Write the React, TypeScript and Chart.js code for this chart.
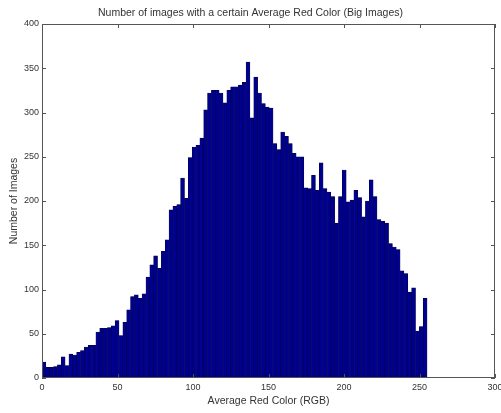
import React, { useEffect, useRef } from "react";
import { Chart, registerables } from "chart.js";

Chart.register(...registerables);

const TITLE = "Number of images with a certain Average Red Color (Big Images)";
const X_LABEL = "Average Red Color (RGB)";
const Y_LABEL = "Number of Images";

// histogram bins: 100 bins spanning 0..255
const BIN_MIN = 0;
const BIN_MAX = 255;
const COUNTS = [
  18, 12, 12, 13, 15, 24, 14, 27, 26, 29,
  31, 35, 37, 37, 52, 56, 56, 57, 59, 65,
  48, 63, 77, 92, 94, 90, 95, 114, 128, 138,
  124, 143, 156, 190, 194, 196, 226, 203, 249, 261,
  263, 271, 303, 322, 325, 325, 322, 311, 325, 329,
  329, 331, 334, 357, 294, 340, 322, 310, 306, 305,
  265, 258, 278, 273, 265, 254, 250, 250, 215, 214,
  229, 212, 243, 214, 210, 205, 175, 205, 235, 199,
  201, 212, 204, 182, 200, 224, 205, 179, 177, 175,
  152, 148, 145, 121, 118, 97, 102, 53, 58, 90,
];
const X_TICKS = [0, 50, 100, 150, 200, 250, 300];
const Y_TICKS = [0, 50, 100, 150, 200, 250, 300, 350, 400];

const FONT = "'Liberation Sans', Arial, sans-serif";
const TEXT = "#333";

const frameTicks = {
  id: "frameTicks",
  afterDraw(chart: any) {
    const { ctx, chartArea, scales } = chart;
    const { left, right, top, bottom } = chartArea;
    ctx.save();
    ctx.strokeStyle = "#555";
    ctx.lineWidth = 1;
    ctx.strokeRect(left + 0.5, top + 0.5, right - left - 1, bottom - top - 1);
    const len = 4;
    ctx.beginPath();
    for (const v of X_TICKS) {
      const x = Math.round(scales.x.getPixelForValue(v)) + 0.5;
      ctx.moveTo(x, bottom);
      ctx.lineTo(x, bottom - len);
      ctx.moveTo(x, top);
      ctx.lineTo(x, top + len);
    }
    for (const v of Y_TICKS) {
      const y = Math.round(scales.y.getPixelForValue(v)) + 0.5;
      ctx.moveTo(left, y);
      ctx.lineTo(left + len, y);
      ctx.moveTo(right, y);
      ctx.lineTo(right - len, y);
    }
    ctx.stroke();
    ctx.restore();
  },
};

export default function App() {
  const ref = useRef<HTMLCanvasElement | null>(null);

  useEffect(() => {
    if (!ref.current) return;
    const binWidth = (BIN_MAX - BIN_MIN) / COUNTS.length;
    const data = COUNTS.map((c, i) => ({ x: BIN_MIN + binWidth * (i + 0.5), y: c }));
    const chart = new Chart(ref.current, {
      type: "bar",
      data: {
        datasets: [
          {
            data: data as any,
            backgroundColor: "#00008F",
            borderColor: "#000033",
            borderWidth: 0.5,
            borderSkipped: false,
            barPercentage: 1,
            categoryPercentage: 1,
          },
        ],
      },
      options: {
        animation: false,
        responsive: false,
        maintainAspectRatio: false,
        layout: { padding: { left: 0, right: 0, top: 0, bottom: 0 } },
        plugins: {
          legend: { display: false },
          tooltip: { enabled: false },
          title: {
            display: true,
            text: TITLE,
            color: TEXT,
            font: { family: FONT, size: 10.5, weight: "normal" },
            padding: { top: 7, bottom: 4.4 },
          },
        },
        scales: {
          x: {
            type: "linear",
            min: 0,
            max: 300,
            offset: false,
            grid: { display: false, drawTicks: false },
            border: { display: false },
            ticks: {
              stepSize: 50,
              color: TEXT,
              font: { family: FONT, size: 9 },
              padding: 4,
              maxRotation: 0,
            },
            title: {
              display: true,
              text: X_LABEL,
              color: TEXT,
              font: { family: FONT, size: 10.5 },
              padding: { top: 0, bottom: 6 },
            },
            afterFit(scale: any) {
              scale.height = 35;
              scale.paddingRight = 6;
              scale.paddingLeft = 0;
            },
          },
          y: {
            type: "linear",
            min: 0,
            max: 400,
            grid: { display: false, drawTicks: false },
            border: { display: false },
            ticks: {
              stepSize: 50,
              color: TEXT,
              font: { family: FONT, size: 9 },
              padding: 3,
            },
            title: {
              display: true,
              text: Y_LABEL,
              color: TEXT,
              font: { family: FONT, size: 10.5 },
              padding: { top: 8, bottom: 0 },
            },
            afterFit(scale: any) {
              scale.width = 42;
            },
          },
        },
      },
      plugins: [frameTicks],
    });
    return () => chart.destroy();
  }, []);

  return (
    <div style={{ position: "fixed", left: 0, top: 0, width: 501, height: 413, background: "#fff" }}>
      <canvas ref={ref} width={501} height={413} style={{ width: 501, height: 413, display: "block" }} />
    </div>
  );
}
